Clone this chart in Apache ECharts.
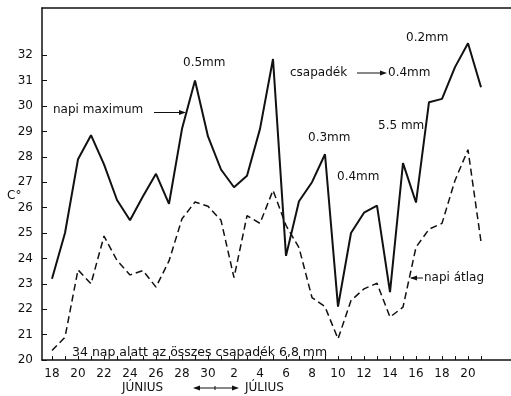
<!DOCTYPE html>
<html>
<head>
<meta charset="utf-8">
<script src="https://cdn.jsdelivr.net/npm/echarts@6/dist/echarts.min.js"></script>
<style>
html,body{margin:0;padding:0;background:#fff;}
#c{width:511px;height:396px;}
</style>
</head>
<body>
<div id="c"></div>
<script>
// Days: June 18–30, July 1–21 (34 days)
const dayLabels = ['18','19','20','21','22','23','24','25','26','27','28','29','30',
  '1','2','3','4','5','6','7','8','9','10','11','12','13','14','15','16','17','18','19','20','21'];
const dailyMax = [23.2, 25.0, 27.9, 28.85, 27.7, 26.3, 25.5, 26.45, 27.33, 26.15, 29.1, 31.0, 28.8,
  27.5, 26.8, 27.25, 29.1, 31.85, 24.1, 26.25, 27.0, 28.1, 22.1, 25.0, 25.8, 26.08, 22.67, 27.75, 26.2, 30.15, 30.28, 31.53, 32.47, 30.74];
const dailyMean = [20.37, 20.9, 23.55, 23.0, 24.88, 23.92, 23.35, 23.52, 22.87, 23.9, 25.56, 26.22, 26.05,
  25.5, 23.24, 25.68, 25.38, 26.68, 25.3, 24.42, 22.46, 22.1, 20.83, 22.34, 22.8, 23.02, 21.69, 22.08, 24.44, 25.15, 25.38, 27.07, 28.28, 24.66];
const labelIdx = [0,2,4,6,8,10,12,14,16,18,20,22,24,26,28,30,32];
const yTicks = [20,21,22,23,24,25,26,27,28,29,30,31,32];

const FONT = 'DejaVu Sans';
const xMin = -10/13, xMax = -10/13 + 469/13;

const chart = echarts.init(document.getElementById('c'), null, {renderer:'canvas'});

function txt(x, y, s, opts) {
  return {type:'text', x:x, y:y, style:Object.assign({text:s, font:'12px "'+FONT+'"', fill:'#111', textVerticalAlign:'middle'}, opts||{})};
}
function line(x1,y1,x2,y2,w){return {type:'line', shape:{x1:x1,y1:y1,x2:x2,y2:y2}, style:{stroke:'#111', lineWidth:w||1}};}
function head(x,y,dir){ // dir 1 = right, -1 = left
  return {type:'polygon', shape:{points:[[x,y],[x-7*dir,y-2.5],[x-7*dir,y+2.5]]}, style:{fill:'#111'}};
}

chart.setOption({
  animation:false,
  backgroundColor:'#fff',
  grid:{left:42, right:0, top:8, bottom:36, containLabel:false},
  xAxis:[{
    type:'value', min:xMin, max:xMax, position:'bottom',
    axisLine:{show:true, onZero:false, lineStyle:{color:'#111', width:1.5}},
    axisTick:{show:true, inside:true, length:4, customValues:dayLabels.map((d,i)=>i), lineStyle:{color:'#111'}},
    axisLabel:{customValues:labelIdx, formatter:v=>dayLabels[Math.round(v)], color:'#111', fontFamily:FONT, fontSize:12, margin:8},
    splitLine:{show:false}
  },{
    type:'value', min:xMin, max:xMax, position:'top',
    axisLine:{show:true, onZero:false, lineStyle:{color:'#111', width:1.5}},
    axisTick:{show:false}, axisLabel:{show:false}, splitLine:{show:false}
  }],
  yAxis:{
    type:'value', min:20, max:20+352/25.4,
    axisLine:{show:true, onZero:false, lineStyle:{color:'#111', width:1.5}},
    axisTick:{show:true, inside:true, length:5, customValues:yTicks, lineStyle:{color:'#111'}},
    axisLabel:{customValues:yTicks, color:'#111', fontFamily:FONT, fontSize:12, margin:9},
    splitLine:{show:false}
  },
  series:[{
    name:'napi maximum', type:'line', xAxisIndex:0,
    data:dailyMax.map((v,i)=>[i,v]), symbol:'none',
    lineStyle:{color:'#111', width:2}
  },{
    name:'napi átlag', type:'line', xAxisIndex:0,
    data:dailyMean.map((v,i)=>[i,v]), symbol:'none',
    lineStyle:{color:'#111', width:1.5, type:[7,4]}
  }],
  graphic:[
    txt(7, 196, 'C°'),
    txt(53, 110, 'napi maximum'),
    line(154, 112.5, 184, 112.5), head(186, 112.5, 1),
    txt(183, 63, '0.5mm'),
    txt(290, 73, 'csapadék'),
    line(357, 73, 383, 73), head(387, 73, 1),
    txt(388, 73, '0.4mm'),
    txt(406, 38, '0.2mm'),
    txt(308, 138, '0.3mm'),
    txt(337, 177, '0.4mm'),
    txt(378, 126, '5.5 mm'),
    line(411, 278, 423, 278), head(410, 278, -1),
    txt(424, 278, 'napi átlag'),
    txt(72, 353, '34 nap alatt az összes csapadék 6,8 mm', {font:'12.5px "'+FONT+'"'}),
    txt(122, 388, 'JÚNIUS'),
    line(195, 388, 236, 388), head(193, 388, -1), head(239, 388, 1), line(215, 386, 215, 390),
    txt(245, 388, 'JÚLIUS')
  ]
});
</script>
</body>
</html>
